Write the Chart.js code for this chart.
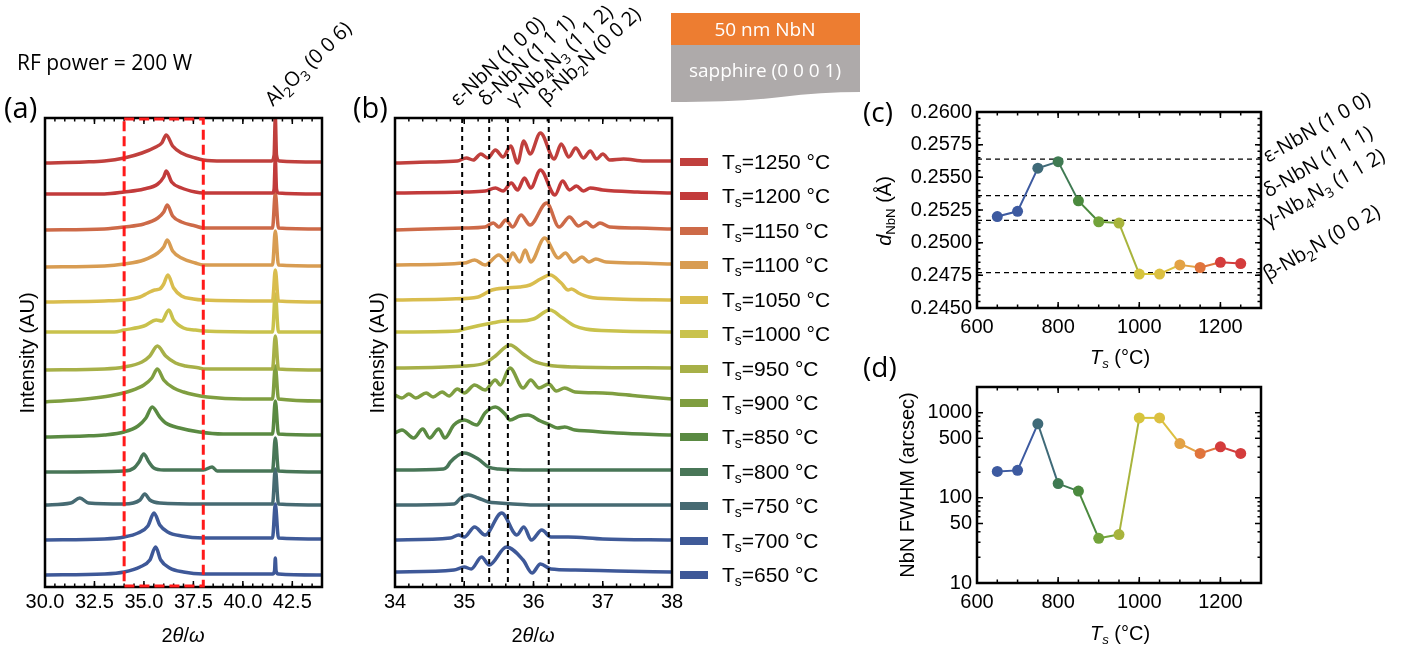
<!DOCTYPE html>
<html>
<head>
<meta charset="utf-8">
<script src="https://cdn.jsdelivr.net/npm/chart.js@4.4.1/dist/chart.umd.min.js"></script>
<style>
  body { margin: 0; background: #fff; }
  #fig { position: relative; width: 1419px; height: 650px; overflow: hidden;
         font-family: 'Liberation Sans', Arial, sans-serif; color: #000; }
  canvas { position: absolute; }
  .lbl { position: absolute; white-space: nowrap; line-height: 1; font-size: 20px; }
  .note { font-family: 'Open Sans', sans-serif; }
  .ctr { transform: translate(-50%, -50%); }
  .vert { transform: translate(-50%, -50%) rotate(-90deg); }
  sub { font-size: 66%; vertical-align: -0.28em; line-height: 0; }
  #ann { position: absolute; left: 0; top: 0; }
</style>
</head>
<body>
<div id="fig">
  <canvas id="chartA" width="340" height="550" style="left:0;top:100px"></canvas>
  <canvas id="chartB" width="340" height="550" style="left:350px;top:100px"></canvas>
  <canvas id="chartC" width="390" height="250" style="left:890px;top:95px"></canvas>
  <canvas id="chartD" width="390" height="250" style="left:890px;top:370px"></canvas>

  <svg style="position:absolute;left:671px;top:13px" width="190" height="92">
    <rect x="0" y="0" width="189" height="32" fill="#ed7d31"/>
    <path d="M0,32 H189 V79 Q150,79 110,84 T0,89 Z" fill="#aeaaaa"/>
    <text x="94" y="23" fill="#fff" text-anchor="middle" font-family="Open Sans" font-size="19">50 nm NbN</text>
    <text x="94" y="64" fill="#fff" text-anchor="middle" font-family="Open Sans" font-size="19">sapphire (0 0 0 1)</text>
  </svg>

  <svg id="ann" width="1419" height="650" font-family="Open Sans" font-size="20"></svg>

  <div class="lbl note" style="left:17px;top:52px;font-size:21px">RF power = 200 W</div>
  <div class="lbl note" style="left:4px;top:92px;font-size:29px">(a)</div>
  <div class="lbl note" style="left:353px;top:92px;font-size:29px">(b)</div>
  <div class="lbl note" style="left:863px;top:97px;font-size:28px">(c)</div>
  <div class="lbl note" style="left:863px;top:352px;font-size:28px">(d)</div>

  <div class="lbl vert" style="left:27px;top:353px">Intensity (AU)</div>
  <div class="lbl vert" style="left:377px;top:353px">Intensity (AU)</div>
  <div class="lbl ctr" style="left:183px;top:635px">2<i>θ</i>/<i>ω</i></div>
  <div class="lbl ctr" style="left:533px;top:635px">2<i>θ</i>/<i>ω</i></div>
  <div class="lbl ctr" style="left:1120px;top:357px"><i>T<sub>s</sub></i> (°C)</div>
  <div class="lbl ctr" style="left:1120px;top:633px"><i>T<sub>s</sub></i> (°C)</div>
  <div class="lbl vert" style="left:884px;top:211px"><i>d</i><sub>NbN</sub> (Å)</div>
  <div class="lbl vert" style="left:907px;top:485px">NbN FWHM (arcsec)</div>
</div>

<script>
// sample temperatures, top trace first (as in the legend)
const tempsDesc = [1250, 1200, 1150, 1100, 1050, 1000, 950, 900, 850, 800, 750, 700, 650];
const traceColors = ['#c0403d', '#c23b3b', '#cd6a48', '#d89c52', '#d9bd4e', '#c9c24c', '#a7b048',
                     '#7f9e40', '#5a8a42', '#487657', '#466a72', '#3f5a98', '#3e5898'];

// vertical offset of each scan (AU)
const offsetA = [424, 393, 357, 320, 285, 255, 217, 185, 150, 115, 82, 47, 12];
const offsetB = [424, 394, 357, 322, 287, 255, 219, 189, 152, 117, 82, 47, 15];

// panel (a): wide 2theta/omega scans, [2theta, intensity above baseline]
const a1250 = [[30,0],[32,1],[33,2],[34,5],[34.9,10],[35.6,16],[35.9,20],[36.13,28],[36.45,17],[36.9,10],[37.6,5],[38,3],[39,2],[41.45,2],[41.58,8],[41.64,46],[41.7,8],[41.85,2],[44,1]];
const a1200 = [[30,0],[33,0],[34,2],[35,5],[35.7,10],[36,17],[36.13,23],[36.4,12],[36.9,6],[37.6,2],[38,1],[41.5,1],[41.58,5],[41.64,36],[41.7,5],[41.8,1],[44,0]];
const a1150 = [[30,0],[33,1],[34,3],[35,6],[35.7,12],[36,18],[36.18,25],[36.45,14],[36.9,8],[37.6,4],[38,2],[41.5,2],[41.64,37],[41.8,2],[44,1]];
const a1100 = [[30,0],[33,1],[34,3],[35,7],[35.7,14],[36,20],[36.18,27],[36.45,16],[36.9,9],[37.6,4],[38,2],[41.5,2],[41.64,36],[41.8,2],[44,1]];
const a1050 = [[30,0],[33,1],[34,2],[34.8,5],[35.2,9],[35.54,12],[35.8,13],[36,18],[36.21,27],[36.5,14],[36.9,6],[37.5,3],[38,2],[41.5,1],[41.64,32],[41.8,1],[44,0]];
const a1000 = [[30,0],[33.5,0],[34,2],[35,6],[35.63,12],[35.9,11],[36.26,22],[36.5,12],[37,4],[37.6,2],[38,1],[41.5,0],[41.64,38],[41.8,0],[44,0]];
const a950  = [[30,0],[33,1],[34,3],[34.9,8],[35.3,14],[35.68,24],[36.1,14],[36.6,7],[37.1,4],[37.8,2],[38,1],[41.5,1],[41.64,34],[41.8,1],[44,0]];
const a900  = [[30,0],[31.5,2],[32.5,4],[33.5,7],[34.3,11],[35,17],[35.4,24],[35.68,33],[36,22],[36.5,14],[37,10],[37.6,7],[38.2,5],[40,3],[41.5,3],[41.64,36],[41.8,3],[44,1]];
const a850  = [[30,0],[32,1],[33,2],[34,5],[34.7,11],[35.1,19],[35.42,30],[35.8,20],[36.1,14],[36.8,9],[37.8,5],[39,3],[41.5,3],[41.64,36],[41.8,3],[44,2]];
const a800  = [[30,0],[34,1],[34.5,4],[34.75,10],[34.99,18],[35.25,10],[35.5,4],[36,2],[38,2],[38.45,5],[38.7,1],[41.5,1],[41.64,34],[41.8,1],[44,0]];
const a750  = [[30,0],[31.3,2],[31.76,7],[32.2,2],[34,1],[34.8,5],[35.04,11],[35.3,5],[35.8,2],[38,1],[41.5,1],[41.64,36],[41.8,1],[44,0]];
const a700  = [[30,0],[33,1],[34,3],[34.7,7],[35.2,14],[35.51,27],[35.8,15],[36.2,8],[36.9,4],[38,2],[41.5,2],[41.64,36],[41.8,2],[44,1]];
const a650  = [[30,0],[33,1],[34,3],[34.8,8],[35.3,15],[35.59,28],[35.85,15],[36.3,7],[37,3],[38,1],[41.5,1],[41.6,4],[41.64,17],[41.68,4],[41.8,1],[44,0]];

// panel (b): zoom 34-38 with thickness fringes
const b1250 = [[34,0],[34.5,1],[34.9,2],[35.03,5],[35.13,3],[35.24,9],[35.34,5],[35.45,13],[35.56,6],[35.67,17],[35.77,0],[35.86,22],[35.95,9],[36.1,30],[36.3,4],[36.4,19],[36.51,6],[36.61,15],[36.72,5],[36.82,12],[36.91,4],[37,9],[37.1,3],[37.3,4],[37.6,2],[38,2]];
const b1200 = [[34,0],[35,1],[35.3,2],[35.45,5],[35.56,2],[35.68,10],[35.77,3],[35.87,15],[35.96,5],[36.1,23],[36.31,-2],[36.42,12],[36.52,3],[36.62,7],[36.72,2],[36.82,5],[37,3],[37.5,1],[38,0]];
const b1150 = [[34,0],[35,2],[35.3,3],[35.42,7],[35.5,3],[35.6,10],[35.7,3],[35.82,15],[35.95,5],[36.19,27],[36.37,3],[36.52,13],[36.65,4],[36.76,8],[36.86,3],[36.96,7],[37.1,3],[37.5,2],[38,1]];
const b1100 = [[34,0],[35,2],[35.15,5],[35.3,0],[35.5,10],[35.62,3],[35.7,12],[35.8,3],[35.88,15],[35.96,3],[36.16,27],[36.36,7],[36.46,12],[36.58,3],[36.7,8],[36.8,3],[36.9,6],[37.05,3],[37.5,2],[38,1]];
const b1050 = [[34,0],[34.8,1],[35.2,3],[35.4,10],[35.6,12],[35.8,13],[35.95,15],[36.1,21],[36.24,25],[36.4,17],[36.5,10],[36.55,11],[36.65,7],[36.8,3],[37.2,1],[38,0]];
const b1000 = [[34,0],[34.9,1],[35,3],[35.4,9],[35.6,11],[35.8,11],[36,13],[36.24,22],[36.4,15],[36.6,6],[36.75,3],[37.2,1],[38,0]];
const b950  = [[34,0],[35,2],[35.3,5],[35.45,12],[35.66,23],[35.85,14],[36,7],[36.2,3],[36.6,1],[38,0]];
const b900  = [[34,3],[34.1,0],[34.2,4],[34.3,0],[34.45,5],[34.55,1],[34.68,6],[34.78,2],[34.9,9],[35,5],[35.15,13],[35.3,8],[35.45,18],[35.52,13],[35.66,30],[35.85,10],[35.96,18],[36.08,10],[36.22,14],[36.33,7],[36.45,10],[36.6,6],[37,5],[37.5,2],[38,-1]];
const b850  = [[34,2],[34.1,5],[34.27,-3],[34.4,6],[34.5,-3],[34.63,6],[34.72,-3],[34.85,10],[35,15],[35.18,10],[35.3,22],[35.45,28],[35.6,20],[35.66,15],[35.8,19],[35.92,20],[36.1,14],[36.24,10],[36.35,7],[36.45,8],[36.6,5],[36.8,4],[37.2,2],[38,0]];
const b800  = [[34,0],[34.7,1],[34.75,3],[34.8,8],[35,17],[35.2,11],[35.35,3],[35.5,1],[36,0],[38,0]];
const b750  = [[34,0],[34.85,1],[34.95,7],[35.06,10],[35.2,7],[35.35,3],[35.5,2],[35.7,1],[36,0],[38,0]];
const b700  = [[34,0],[34.8,2],[34.92,5],[35,3],[35.15,13],[35.3,5],[35.54,27],[35.76,5],[35.86,13],[35.97,0],[36.12,10],[36.25,3],[36.5,3],[37,1],[38,0]];
const b650  = [[34,0],[34.85,2],[35,5],[35.1,3],[35.25,15],[35.36,7],[35.61,25],[35.85,12],[35.98,-1],[36.1,8],[36.25,3],[36.6,2],[37.2,1],[38,0]];

const scansA = [a1250, a1200, a1150, a1100, a1050, a1000, a950, a900, a850, a800, a750, a700, a650];
const scansB = [b1250, b1200, b1150, b1100, b1050, b1000, b950, b900, b850, b800, b750, b700, b650];

// panels (c) and (d)
const tempsAsc = [650, 700, 750, 800, 850, 900, 950, 1000, 1050, 1100, 1150, 1200, 1250];
const dSpacing = [0.2520, 0.2524, 0.2557, 0.2562, 0.2532, 0.2516, 0.2515, 0.2476, 0.2476, 0.2483, 0.2481, 0.2485, 0.2484];
const fwhm = [204, 210, 740, 147, 120, 33.5, 37, 868, 868, 434, 332, 397, 332];
const dotColors = ['#3d5aa0', '#3d5aa0', '#3f6a78', '#3f7a52', '#4b8a3e', '#72a33a', '#a8b43c',
                   '#d6c43c', '#dcc040', '#e3a245', '#e0743c', '#d43c3c', '#d43c3c'];

const tickA = [30, 32.5, 35, 37.5, 40, 42.5];
const tickB = [34, 35, 36, 37, 38];
const tickT = [600, 800, 1000, 1200];
const tickD = [0.245, 0.2475, 0.25, 0.2525, 0.255, 0.2575, 0.26];
const tickF = [10, 50, 100, 500, 1000];

const phaseLines = [34.97, 35.36, 35.63, 36.22];
const phaseRefs = [0.2564, 0.2536, 0.2517, 0.2477];
const phaseNames = [['ε-NbN (1 0 0)'], ['δ-NbN (1 1 1)'], ['γ-Nb', '4', 'N', '3', ' (1 1 2)'], ['β-Nb', '2', 'N (0 0 2)']];
const zoomBox = [34, 38];

function range(a, b, s) { const out = []; for (let v = a; v <= b + 1e-9; v += s) out.push(+v.toFixed(6)); return out; }

Chart.defaults.font.family = "'Liberation Sans', Arial, sans-serif";
Chart.defaults.font.size = 20;
Chart.defaults.color = '#000';

// box round the plot and inward ticks on every side
const framePlugin = {
  id: 'frame',
  afterDatasetsDraw(chart, args, o) {
    const { ctx, chartArea: a, scales } = chart;
    ctx.save();
    ctx.strokeStyle = '#000';
    ctx.lineWidth = 1.5;
    const mark = (list, len, horiz) => (list || []).forEach(v => {
      if (horiz) {
        const p = scales.x.getPixelForValue(v);
        ctx.beginPath(); ctx.moveTo(p, a.bottom); ctx.lineTo(p, a.bottom - len);
        ctx.moveTo(p, a.top); ctx.lineTo(p, a.top + len); ctx.stroke();
      } else {
        const p = scales.y.getPixelForValue(v);
        ctx.beginPath(); ctx.moveTo(a.left, p); ctx.lineTo(a.left + len, p);
        ctx.moveTo(a.right, p); ctx.lineTo(a.right - len, p); ctx.stroke();
      }
    });
    mark(o.xMajor, 6, true); mark(o.xMinor, 3.5, true);
    mark(o.yMajor, 6, false); mark(o.yMinor, 3.5, false);
    ctx.lineWidth = 2.5;
    ctx.strokeRect(a.left, a.top, a.right - a.left, a.bottom - a.top);
    ctx.restore();
  }
};

// dashed phase positions and the zoom box
function drawGuides(chart, o) {
  const { ctx, chartArea: a, scales } = chart;
  ctx.save();
  ctx.strokeStyle = o.color || '#000';
  ctx.lineWidth = o.width || 1.5;
  ctx.setLineDash(o.dash || [5, 4]);
  (o.vx || []).forEach(v => {
    const p = scales.x.getPixelForValue(v);
    ctx.beginPath(); ctx.moveTo(p, a.top); ctx.lineTo(p, a.bottom); ctx.stroke();
  });
  (o.hy || []).forEach(v => {
    const p = scales.y.getPixelForValue(v);
    ctx.beginPath(); ctx.moveTo(a.left, p); ctx.lineTo(a.right, p); ctx.stroke();
  });
  if (o.box) {
    const x0 = scales.x.getPixelForValue(o.box[0]), x1 = scales.x.getPixelForValue(o.box[1]);
    ctx.strokeRect(x0, a.top + 1, x1 - x0, a.bottom - a.top - 2);
  }
  ctx.restore();
}
const guidePlugin = {
  id: 'guides',
  beforeDatasetsDraw(chart, args, o) { if (o.under) drawGuides(chart, o); },
  afterDatasetsDraw(chart, args, o) { if (!o.under) drawGuides(chart, o); }
};
Chart.register(framePlugin, guidePlugin);

function xAxis(min, max, ticks, fmt, height, pad) {
  return {
    type: 'linear', min, max,
    afterBuildTicks: s => { s.ticks = ticks.map(v => ({ value: v })); },
    afterFit: s => { s.height = height; },
    ticks: { callback: fmt, padding: pad, maxRotation: 0, autoSkip: false },
    grid: { display: false, drawTicks: false },
    border: { display: false }
  };
}

function scanChart(id, scans, offsets, xmin, xmax, ticks, fmt, minor, guides) {
  new Chart(document.getElementById(id), {
    type: 'line',
    data: {
      datasets: scans.map((s, i) => ({
        data: s.map(([x, h]) => ({ x, y: offsets[i] + h })),
        borderColor: traceColors[i],
        borderWidth: 3.5,
        pointRadius: 0,
        cubicInterpolationMode: 'monotone'
      }))
    },
    options: {
      responsive: false, animation: false,
      layout: { padding: { left: 45, top: 18, right: 18, bottom: 0 } },
      plugins: {
        legend: { display: false }, tooltip: { enabled: false },
        frame: { xMajor: ticks, xMinor: minor },
        guides: guides
      },
      scales: {
        x: xAxis(xmin, xmax, ticks, fmt, 63, 3),
        y: { display: false, min: 0, max: 469 }
      }
    }
  });
}

scanChart('chartA', scansA, offsetA, 30, 44, tickA, v => v.toFixed(1), range(30, 44, 0.5),
  { box: zoomBox, color: '#ff1a1a', width: 3, dash: [10, 5] });
scanChart('chartB', scansB, offsetB, 34, 38, tickB, v => String(v), range(34, 38, 0.2),
  { vx: phaseLines, width: 2, dash: [5, 4] });

function pointChart(id, values, yScale, frameY, guides) {
  new Chart(document.getElementById(id), {
    type: 'line',
    data: {
      datasets: [{
        data: tempsAsc.map((t, i) => ({ x: t, y: values[i] })),
        borderColor: dotColors[0],
        borderWidth: 2,
        segment: { borderColor: c => dotColors[c.p0DataIndex] },
        pointRadius: 5.5,
        pointBorderWidth: 0,
        pointBackgroundColor: dotColors
      }]
    },
    options: {
      responsive: false, animation: false,
      layout: { padding: { left: 0, top: frameY.top, right: 19, bottom: 0 } },
      plugins: {
        legend: { display: false }, tooltip: { enabled: false },
        frame: { xMajor: tickT, xMinor: range(600, 1300, 50), yMajor: frameY.major, yMinor: frameY.minor },
        guides: guides
      },
      scales: {
        x: xAxis(600, 1300, tickT, v => String(v), 37, 7),
        y: yScale
      }
    }
  });
}

pointChart('chartC', dSpacing, {
  min: 0.245, max: 0.26,
  afterBuildTicks: s => { s.ticks = tickD.map(v => ({ value: v })); },
  afterFit: s => { s.width = 87; },
  ticks: { callback: v => v.toFixed(4), padding: 5 },
  grid: { display: false, drawTicks: false },
  border: { display: false }
}, { top: 14, major: tickD, minor: range(0.245, 0.26, 0.0005) },
{ under: true, hy: phaseRefs, width: 1.3, dash: [5, 4] });

pointChart('chartD', fwhm, {
  type: 'logarithmic', min: 10, max: 2000,
  afterBuildTicks: s => { s.ticks = tickF.map(v => ({ value: v })); },
  afterFit: s => { s.width = 87; },
  ticks: { callback: v => String(v), padding: 5 },
  grid: { display: false, drawTicks: false },
  border: { display: false }
}, { top: 15, major: tickF, minor: [20, 30, 40, 60, 70, 80, 90, 200, 300, 400, 600, 700, 800, 900, 2000] },
{});

// legend for panel (b)
const fig = document.getElementById('fig');
tempsDesc.forEach((t, i) => {
  const y = 162 + i * 34.42;
  const bar = document.createElement('div');
  bar.style.cssText = `position:absolute;left:680px;top:${y - 4}px;width:28px;height:8px;background:${traceColors[i]}`;
  fig.appendChild(bar);
  const txt = document.createElement('div');
  txt.className = 'lbl';
  txt.style.cssText = `left:722px;top:${y - 11}px;font-size:21px`;
  txt.innerHTML = `T<sub>s</sub>=${t} °C`;
  fig.appendChild(txt);
});

// rotated annotations (svg text, baseline start point + angle)
const NS = 'http://www.w3.org/2000/svg';
const ann = document.getElementById('ann');
function rotText(parts, x, y, angle) {
  const t = document.createElementNS(NS, 'text');
  t.setAttribute('transform', `translate(${x},${y}) rotate(${angle})`);
  parts.forEach((p, k) => {
    const s = document.createElementNS(NS, 'tspan');
    s.textContent = p;
    if (k % 2 === 1) { s.setAttribute('dy', '5'); s.setAttribute('font-size', '14'); }
    else if (k > 0) { s.setAttribute('dy', '-5'); }
    t.appendChild(s);
  });
  ann.appendChild(t);
}
rotText(['Al', '2', 'O', '3', ' (0 0 6)'], 273, 107, -44);
const topStarts = [[458, 107], [486, 107], [514, 107], [546, 105]];
const sideStarts = [[1268, 163], [1268, 198], [1268, 228], [1268, 281]];
phaseNames.forEach((parts, i) => {
  rotText(parts, topStarts[i][0], topStarts[i][1], -43);
  rotText(parts, sideStarts[i][0], sideStarts[i][1], -30);
});
</script>
</body>
</html>
